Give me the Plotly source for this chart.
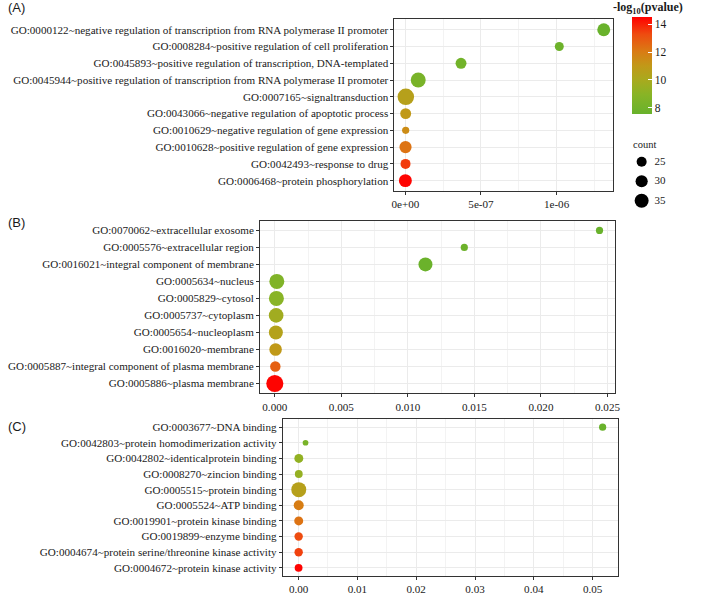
import numpy as np
import plotly.graph_objects as go

# ---------------- data ----------------
a_terms = [
    "GO:0000122~negative regulation of transcription from RNA polymerase II promoter",
    "GO:0008284~positive regulation of cell proliferation",
    "GO:0045893~positive regulation of transcription, DNA-templated",
    "GO:0045944~positive regulation of transcription from RNA polymerase II promoter",
    "GO:0007165~signaltransduction",
    "GO:0043066~negative regulation of apoptotic process",
    "GO:0010629~negative regulation of gene expression",
    "GO:0010628~positive regulation of gene expression",
    "GO:0042493~response to drug",
    "GO:0006468~protein phosphorylation",
]
a_x = [1.312e-6, 1.018e-6, 0.368e-6, 0.085e-6, 3e-9, 2e-9, 2e-9, 1e-9, 1e-9, 0.0]
a_count = [32, 23, 27, 38, 43, 27, 20, 30, 25, 32]
a_logp = [7.6, 7.8, 8.0, 8.3, 10.6, 11.0, 11.5, 12.3, 13.6, 14.5]

b_terms = [
    "GO:0070062~extracellular exosome",
    "GO:0005576~extracellular region",
    "GO:0016021~integral component of membrane",
    "GO:0005634~nucleus",
    "GO:0005829~cytosol",
    "GO:0005737~cytoplasm",
    "GO:0005654~nucleoplasm",
    "GO:0016020~membrane",
    "GO:0005887~integral component of plasma membrane",
    "GO:0005886~plasma membrane",
]
b_x = [0.0244, 0.01424, 0.01132, 0.00015, 0.00012, 0.0001, 0.00008, 0.00006, 0.00004, 0.0]
b_count = [20, 20, 35, 38, 38, 37, 35, 31, 26, 45]
b_logp = [7.6, 7.8, 7.7, 8.6, 9.0, 9.8, 10.5, 11.0, 12.8, 14.5]

c_terms = [
    "GO:0003677~DNA binding",
    "GO:0042803~protein homodimerization activity",
    "GO:0042802~identicalprotein binding",
    "GO:0008270~zincion binding",
    "GO:0005515~protein binding",
    "GO:0005524~ATP binding",
    "GO:0019901~protein kinase binding",
    "GO:0019899~enzyme binding",
    "GO:0004674~protein serine/threonine kinase activity",
    "GO:0004672~protein kinase activity",
]
c_x = [0.0517, 0.00118, 0.00004, 0.00003, 0.00003, 0.00002, 0.00002, 0.00001, 0.00001, 0.0]
c_count = [20, 18, 23, 21, 38, 25, 23, 22, 22, 21]
c_logp = [7.6, 8.3, 9.3, 9.4, 10.6, 12.0, 12.3, 13.3, 13.5, 14.5]

legend_counts = [25, 30, 35]

a_ticks = [0, 5e-7, 1e-6]
a_ticktext = ["0e+00", "5e-07", "1e-06"]
b_ticks = [0, 0.005, 0.01, 0.015, 0.02, 0.025]
c_ticks = [0, 0.01, 0.02, 0.03, 0.04, 0.05]

# ---------------- styling ----------------
SERIF = "Liberation Serif"
SANS = "Liberation Sans"
TXT = "#1a1a1a"
W, H = 702, 595


def dot_px(counts):
    c = np.asarray(counts, dtype=float)
    return np.sqrt(9.6 * np.clip(c - 14.6, 0.5, None))


def px_x(p):
    return p / W


def px_y(p):
    return (H - p) / H


colorscale = [
    [0.0, "#68b22c"],
    [0.2, "#88b426"],
    [0.35, "#a8aa1e"],
    [0.5, "#c29818"],
    [0.65, "#da7a14"],
    [0.82, "#ee4c10"],
    [1.0, "#ff0000"],
]

fig = go.Figure()

panels = [
    ("x", "y", a_terms, a_x, a_count, a_logp),
    ("x2", "y2", b_terms, b_x, b_count, b_logp),
    ("x3", "y3", c_terms, c_x, c_count, c_logp),
]
for xa, ya, terms, xs, cnt, lp in panels:
    fig.add_trace(go.Scatter(
        x=xs, y=terms, mode="markers", xaxis=xa, yaxis=ya,
        marker=dict(size=dot_px(cnt), color=lp, coloraxis="coloraxis",
                    line=dict(width=0), opacity=1),
        showlegend=False, hoverinfo="x+y",
    ))

# size legend
fig.add_trace(go.Scatter(
    x=[10] * len(legend_counts), y=[str(c) for c in legend_counts],
    mode="markers", xaxis="x4", yaxis="y4",
    marker=dict(size=dot_px(legend_counts), color="#000000", opacity=1,
                line=dict(width=0)),
    showlegend=False, hoverinfo="skip",
))
fig.add_trace(go.Scatter(
    x=[23] * len(legend_counts), y=[str(c) for c in legend_counts],
    mode="text", text=[str(c) for c in legend_counts], textposition="middle right",
    textfont=dict(family=SERIF, size=11, color=TXT),
    xaxis="x4", yaxis="y4", showlegend=False, hoverinfo="skip",
))

axis_common = dict(
    showline=True, mirror=True, linecolor="#333333", linewidth=1,
    ticks="outside", ticklen=3, tickcolor="#333333", tickwidth=1,
    gridcolor="#ebebeb", gridwidth=1, zeroline=False,
    tickfont=dict(family=SERIF, size=11.1, color=TXT),
)

fig.update_layout(
    xaxis=dict(domain=[px_x(396), px_x(617)], range=[-0.072e-6, 1.373e-6],
               tickvals=a_ticks, ticktext=a_ticktext, anchor="y",
               minor=dict(tickvals=[-2.5e-7, 2.5e-7, 7.5e-7, 1.25e-6], showgrid=True,
                          gridcolor="#f3f3f3", ticks=""),
               **axis_common),
    yaxis=dict(domain=[px_y(192), px_y(19)], range=[9.6, -0.65], anchor="x",
               type="category", categoryorder="array", categoryarray=a_terms,
               **axis_common),
    xaxis2=dict(domain=[px_x(260), px_x(619)], range=[-0.00111, 0.02556],
                tickvals=b_ticks, tickformat=".3f", anchor="y2",
                minor=dict(dtick=0.0025, tick0=0.0025, showgrid=True,
                           gridcolor="#f3f3f3", ticks=""),
                **axis_common),
    yaxis2=dict(domain=[px_y(396), px_y(222)], range=[9.58, -0.58], anchor="x2",
                type="category", categoryorder="array", categoryarray=b_terms,
                **axis_common),
    xaxis3=dict(domain=[px_x(283), px_x(622)], range=[-0.00269, 0.0543],
                tickvals=c_ticks, tickformat=".2f", anchor="y3",
                minor=dict(dtick=0.005, tick0=0.005, showgrid=True,
                           gridcolor="#f3f3f3", ticks=""),
                **axis_common),
    yaxis3=dict(domain=[px_y(580), px_y(422)], range=[9.53, -0.51], anchor="x3",
                type="category", categoryorder="array", categoryarray=c_terms,
                **axis_common),
    xaxis4=dict(domain=[px_x(636), px_x(690)], range=[0, 54], visible=False,
                anchor="y4", fixedrange=True),
    yaxis4=dict(domain=[px_y(212), px_y(153)], range=[2.5, -0.5], visible=False,
                type="category", categoryorder="array",
                categoryarray=[str(c) for c in legend_counts], anchor="x4"),
    coloraxis=dict(
        colorscale=colorscale, cmin=7.57, cmax=14.57,
        colorbar=dict(
            x=px_x(636), xanchor="left", y=px_y(65.5), yanchor="middle",
            len=97, lenmode="pixels", thickness=20, thicknessmode="pixels",
            outlinewidth=0, tickvals=[8, 10, 12, 14],
            ticks="inside", ticklen=4, tickcolor="white", tickwidth=1,
            tickfont=dict(family=SERIF, size=11.5, color=TXT),
            xpad=0, ypad=0,
        ),
    ),
    width=W, height=H,
    margin=dict(l=0, r=0, t=0, b=0),
    paper_bgcolor="white", plot_bgcolor="white",
    font=dict(family=SERIF, color=TXT),
    annotations=[
        dict(text="(A)", x=px_x(3), y=px_y(8), xref="paper", yref="paper",
             xanchor="left", yanchor="middle", showarrow=False,
             font=dict(family=SANS, size=13, color=TXT)),
        dict(text="(B)", x=px_x(3), y=px_y(224), xref="paper", yref="paper",
             xanchor="left", yanchor="middle", showarrow=False,
             font=dict(family=SANS, size=13, color=TXT)),
        dict(text="(C)", x=px_x(3), y=px_y(429), xref="paper", yref="paper",
             xanchor="left", yanchor="middle", showarrow=False,
             font=dict(family=SANS, size=13, color=TXT)),
        dict(text="<b>-log<sub>10</sub>(pvalue)</b>", x=px_x(652), y=px_y(8),
             xref="paper", yref="paper", xanchor="center", yanchor="middle",
             showarrow=False, font=dict(family=SERIF, size=12, color=TXT)),
        dict(text="count", x=px_x(635), y=px_y(145), xref="paper", yref="paper",
             xanchor="left", yanchor="middle", showarrow=False,
             font=dict(family=SERIF, size=10.5, color=TXT)),
    ],
)

fig.write_html(
    "out.html",
    config={"displayModeBar": False},
    post_script="document.body.style.margin='0px';document.body.style.overflow='hidden';",
)
